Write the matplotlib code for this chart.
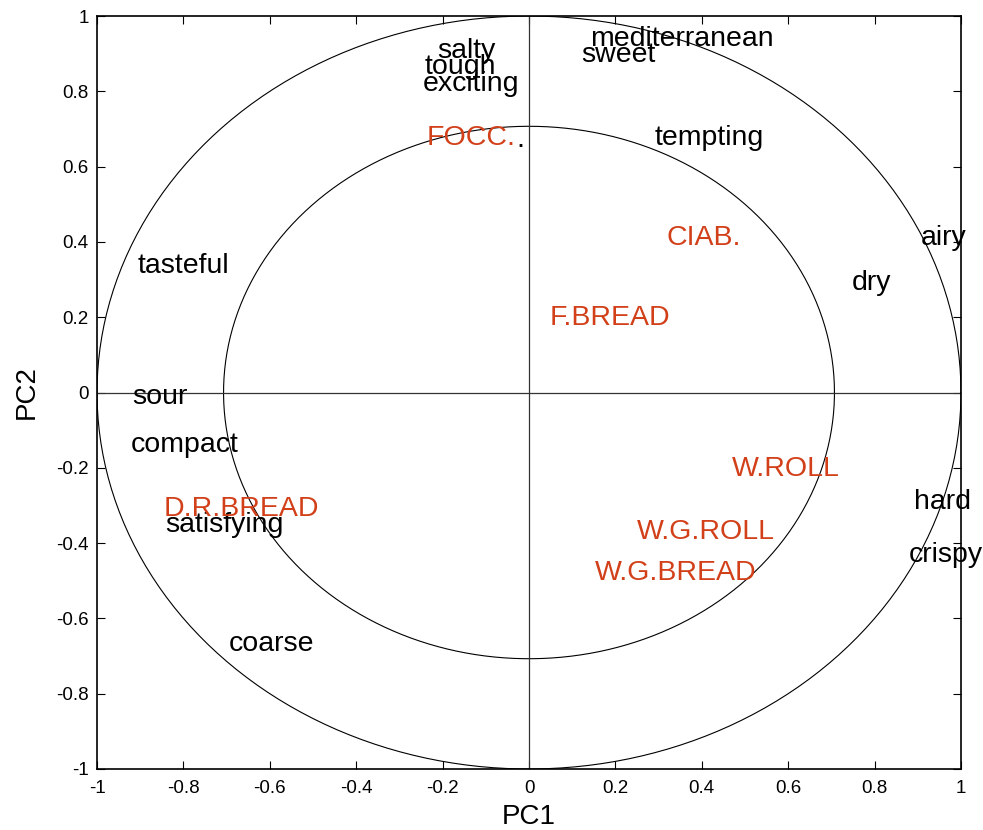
import numpy as np
import matplotlib.pyplot as plt

plt.rcParams['font.family'] = ['Liberation Sans', 'DejaVu Sans']

# attribute loadings (black)
atributos = ['salty', 'tough', 'exciting', 'mediterranean', 'sweet', 'tempting', '.',
             'airy', 'dry', 'tasteful', 'sour', 'compact', 'satisfying', 'hard',
             'crispy', 'coarse']
atr_x = [-0.146, -0.158, -0.134, 0.354, 0.208, 0.417, -0.020,
         0.960, 0.792, -0.799, -0.854, -0.796, -0.706, 0.958,
         0.965, -0.595]
atr_y = [0.907, 0.864, 0.820, 0.939, 0.896, 0.675, 0.672,
         0.410, 0.290, 0.335, -0.013, -0.140, -0.353, -0.291,
         -0.432, -0.669]

# product scores (red)
produtos = ['FOCC.', 'CIAB.', 'F.BREAD', 'W.ROLL', 'D.R.BREAD', 'W.G.ROLL', 'W.G.BREAD']
prod_x = [-0.133, 0.405, 0.1875, 0.595, -0.665, 0.409, 0.340]
prod_y = [0.676, 0.410, 0.197, -0.204, -0.310, -0.371, -0.480]

ticks = [-1, -0.8, -0.6, -0.4, -0.2, 0, 0.2, 0.4, 0.6, 0.8, 1]


def formato(x):
    if x % 1 == 0:
        return f'{x:.0f}'
    return f'{x:.1f}'


fig = plt.figure(figsize=(9.83, 8.3), dpi=100)
ax = fig.add_axes([0.0987, 0.0735, 0.8789, 0.9072])

t = np.linspace(0, 2 * np.pi, 400)
for r in [1, np.sqrt(0.5)]:
    ax.plot(r * np.cos(t), r * np.sin(t), color='black', lw=0.8)
ax.axhline(0, color='#333333', lw=0.9)
ax.axvline(0, color='#333333', lw=0.9)

for nome, x, y in zip(atributos, atr_x, atr_y):
    ax.text(x, y, nome, fontsize=20.5, color='black', ha='center', va='center', clip_on=False)
for nome, x, y in zip(produtos, prod_x, prod_y):
    ax.text(x, y, nome, fontsize=20.5, color='#d2401a', ha='center', va='center', clip_on=False)

ax.set_xlim(-1, 1)
ax.set_ylim(-1, 1)
ax.set_xticks(ticks)
ax.set_yticks(ticks)
ax.set_xticklabels([formato(v) for v in ticks])
ax.set_yticklabels([formato(v) for v in ticks])
ax.tick_params(direction='in', top=True, right=True, length=6, width=0.8,
               labelsize=13.5)
ax.tick_params(axis='x', pad=8)
ax.tick_params(axis='y', pad=6)
for s in ax.spines.values():
    s.set_linewidth(1.2)

ax.set_xlabel('PC1', fontsize=20, labelpad=5)
ax.set_ylabel('PC2', fontsize=20, labelpad=12)

plt.savefig('out.png', dpi=100)
